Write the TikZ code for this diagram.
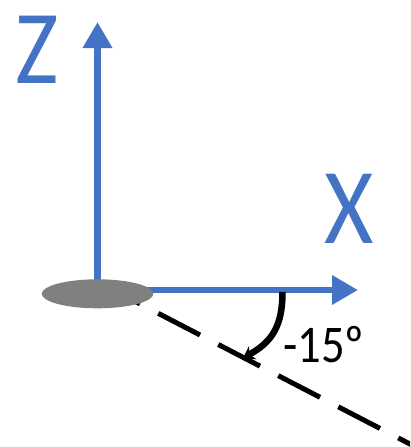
\documentclass[tikz,border=0pt]{standalone}
\usepackage{fontspec}
\setmainfont{Carlito}
\usetikzlibrary{arrows.meta,shapes.geometric}
\definecolor{axisblue}{HTML}{4472C4}
\definecolor{discgray}{HTML}{808080}
\tikzset{
  axis/.style={draw=axisblue, line width=6.5pt, -{Triangle[length=26pt,width=28pt]}},
  dirline/.style={draw=black, line width=5pt, dash pattern=on 47pt off 20.6pt},
  anglearc/.style={draw=black, line width=6.5pt, -{Stealth[length=11pt,width=15pt]}},
  axislabel/.style={text=axisblue, inner sep=0pt, anchor=base, xscale=0.88},
  anglelabel/.style={text=black, inner sep=0pt, anchor=base west, xscale=0.88},
  disc/.style={ellipse, fill=discgray, minimum width=111.6pt, minimum height=29pt, inner sep=0pt}
}
\begin{document}
\begin{tikzpicture}[x=1pt,y=-1pt]
\useasboundingbox (0,0) rectangle (410,447);
\coordinate (O) at (97.5,290);
\coordinate (Ztip) at (97.5,22);
\coordinate (Xtip) at (358,290);
\coordinate (Dstart) at (98.3,282.2);
\coordinate (Dend) at (430,454.4);
\coordinate (Astart) at (282.5,292);
\coordinate (Aend) at (243,358);
% axes
\draw[axis] (O) -- (Ztip);
\draw[axis] (O) -- (Xtip);
% dashed direction line
\begin{scope}
  \clip (0,0) rectangle (410,447);
  \draw[dirline] (Dstart) -- (Dend);
\end{scope}
% origin disc
\node[disc] (disc) at (97.5,293.8) {};
% angle arc
\draw[anglearc] (Astart) .. controls (282.5,326) and (272,342) .. (Aend);
% labels
\node[axislabel, font=\fontsize{105}{110}\selectfont] (zlab) at (37.5,83) {Z};
\node[axislabel, font=\fontsize{108}{112}\selectfont] (xlab) at (349,243) {X};
\node[anglelabel, font=\fontsize{53}{58}\selectfont] (alab) at (283,362) {-15º};
\end{tikzpicture}
\end{document}
